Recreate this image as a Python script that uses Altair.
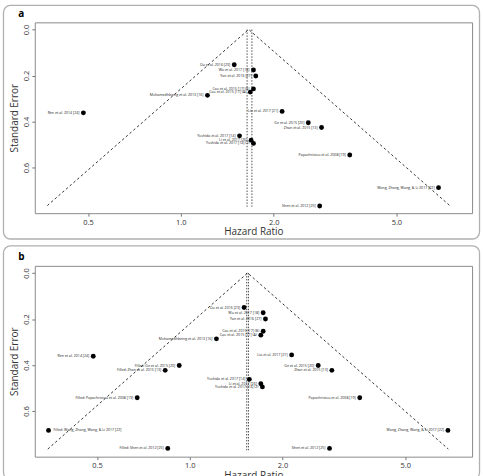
import altair as alt
import pandas as pd

# ---------------- data ----------------
study_labels = [
    "Ou et al. 2016 [23]", "Wu et al. 2017 [18]", "Yan et al. 2016 [27]",
    "Cao et al. 2015 [17] (B)", "Cao et al. 2015 [17] (A)",
    "Mohamedhbeing et al. 2013 [16]", "Ren et al. 2014 [24]",
    "Liu et al. 2017 [21]", "Ge et al. 2015 [20]", "Zhan et al. 2015 [13]",
    "Yoshida et al. 2017 [14]", "Li et al. 2017 [26]",
    "Yoshida et al. 2017 [14] (2)", "Papachristou et al. 2008 [19]",
    "Wang, Zhang, Wang, & Li 2017 [22]", "Shen et al. 2012 [25]",
]
hr_a = [1.49, 1.72, 1.75, 1.72, 1.68, 1.22, 0.483, 2.13, 2.59, 2.86,
        1.55, 1.69, 1.72, 3.53, 6.85, 2.82]
se_a = [0.153, 0.176, 0.202, 0.258, 0.272, 0.286, 0.362, 0.356, 0.405,
        0.426, 0.462, 0.481, 0.495, 0.545, 0.687, 0.767]

hr_b = [1.50, 1.73, 1.76, 1.73, 1.70, 1.22, 0.486, 2.14, 2.61, 2.89,
        1.56, 1.70, 1.72, 3.56, 6.88, 2.84]
se_b = [0.150, 0.173, 0.200, 0.253, 0.270, 0.286, 0.362, 0.356, 0.402,
        0.423, 0.462, 0.481, 0.495, 0.542, 0.684, 0.762]

filled_labels = [
    "Filled: Ge et al. 2015 [20]", "Filled: Zhan et al. 2015 [13]",
    "Filled: Papachristou et al. 2008 [19]",
    "Filled: Wang, Zhang, Wang, & Li 2017 [22]", "Filled: Shen et al. 2012 [25]",
]
filled_hr = [0.924, 0.832, 0.675, 0.348, 0.848]
filled_se = [0.402, 0.423, 0.542, 0.684, 0.762]
filled_side = ["left", "left", "left", "right", "left"]

# funnel: apex estimate, bottom-left / bottom-right HR at the bottom SE
funnel_a = {"apex": 1.66, "left": 0.369, "right": 7.45, "se_max": 0.765}
funnel_b = {"apex": 1.54, "left": 0.346, "right": 6.90, "se_max": 0.765}
vlines_a = [1.64, 1.70]
vlines_b = [1.53, 1.55]
vline_se = [0.0, 0.77]

xdom_a = [0.336, 8.8]
xdom_b = [0.314, 8.24]
ydom = [-0.031, 0.798]
x_ticks = [0.5, 1.0, 2.0, 5.0]
y_ticks = [0.0, 0.2, 0.4, 0.6]

FONT = "Open Sans"
W, H = 440, 192


def panel(letter, hrs, ses, labels, sides, xdom, funnel, vlines, box_top, letter_y):
    pts = pd.DataFrame({"hr": hrs, "se": ses, "label": labels, "side": sides})
    xs = alt.Scale(type="log", domain=xdom, nice=False, zero=False)
    ys = alt.Scale(domain=ydom, reverse=True, nice=False, zero=False)
    xenc = alt.X("hr:Q", scale=xs, title="Hazard Ratio",
                 axis=alt.Axis(values=x_ticks, format=".1f", grid=False,
                               domain=False, tickSize=3, labelPadding=2,
                               titlePadding=1, labelFlush=False))
    yenc = alt.Y("se:Q", scale=ys, title="Standard Error",
                 axis=alt.Axis(values=y_ticks, format=".1f", grid=False,
                               domain=False, tickSize=3, labelAngle=270,
                               labelAlign="center", labelBaseline="bottom",
                               labelPadding=1, titlePadding=3))

    lines = pd.DataFrame({
        "hr": [funnel["left"], funnel["apex"], funnel["right"]],
        "se": [funnel["se_max"], 0.0, funnel["se_max"]],
        "o": [0, 1, 2],
    })
    vl = pd.DataFrame({
        "hr": [v for v in vlines for _ in vline_se],
        "se": vline_se * len(vlines),
        "g": [i for i in range(len(vlines)) for _ in vline_se],
    })

    funnel_layer = alt.Chart(lines).mark_line(
        color="black", strokeWidth=0.8, strokeDash=[2.5, 2.5]
    ).encode(x=xenc, y=yenc, order="o:Q")
    vline_layer = alt.Chart(vl).mark_line(
        color="black", strokeWidth=0.7, strokeDash=[1.5, 1.5]
    ).encode(x=alt.X("hr:Q", scale=xs), y=alt.Y("se:Q", scale=ys), detail="g:N")
    point_layer = alt.Chart(pts).mark_circle(
        size=24, color="black", opacity=1
    ).encode(x=alt.X("hr:Q", scale=xs), y=alt.Y("se:Q", scale=ys))
    text_left = alt.Chart(pts).transform_filter(alt.datum.side == "left").mark_text(
        align="right", baseline="middle", dx=-4, fontSize=3.6, font=FONT, color="#222"
    ).encode(x=alt.X("hr:Q", scale=xs), y=alt.Y("se:Q", scale=ys), text="label:N")
    text_right = alt.Chart(pts).transform_filter(alt.datum.side == "right").mark_text(
        align="left", baseline="middle", dx=5, fontSize=3.6, font=FONT, color="#222"
    ).encode(x=alt.X("hr:Q", scale=xs), y=alt.Y("se:Q", scale=ys), text="label:N")

    one = pd.DataFrame({"k": [0]})
    box = alt.Chart(one).mark_rect(
        filled=False, stroke="#b0b0b0", strokeWidth=1.3, cornerRadius=7
    ).encode(x=alt.value(-31.5), x2=alt.value(447.5),
             y=alt.value(box_top), y2=alt.value(box_top + 235))
    letter_mark = alt.Chart(one).mark_text(
        align="center", baseline="middle", fontSize=10, fontWeight="bold",
        font=FONT, color="black"
    ).encode(x=alt.value(-13.5), y=alt.value(letter_y), text=alt.value(letter))

    return alt.layer(
        box, funnel_layer, vline_layer, point_layer, text_left, text_right, letter_mark
    ).properties(width=W, height=H)


labels_b = study_labels + filled_labels
hr_b_all = hr_b + filled_hr
se_b_all = se_b + filled_se
sides_a = ["left"] * len(study_labels)
sides_b = ["left"] * len(study_labels) + filled_side

pa = panel("a", hr_a, se_a, study_labels, sides_a, xdom_a, funnel_a, vlines_a, -17, -8)
pb = panel("b", hr_b_all, se_b_all, labels_b, sides_b, xdom_b, funnel_b, vlines_b, -20, -8.5)

chart = alt.vconcat(pa, pb, spacing=3).properties(
    padding={"left": 2, "top": 2, "right": 2, "bottom": 0}
).configure_view(
    stroke="#8a8a8a", strokeWidth=1
).configure_axis(
    labelFont=FONT, titleFont=FONT, labelFontSize=7.5, titleFontSize=10,
    labelColor="#333", titleColor="#333", tickColor="#777",
    titleFontWeight="normal"
).configure_concat(spacing=3)

chart.save("out.html", embed_options={"renderer": "svg", "actions": False})
